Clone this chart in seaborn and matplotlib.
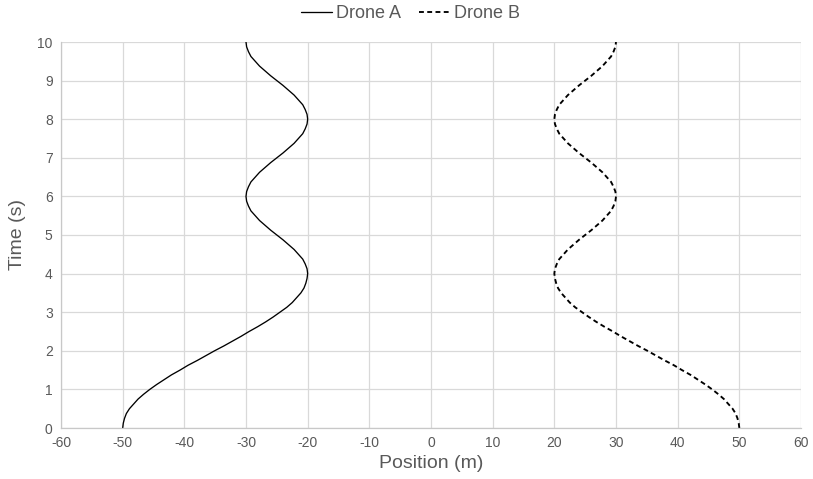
import matplotlib
matplotlib.use("Agg")
import matplotlib.pyplot as plt
import seaborn as sns
import pandas as pd

time_s = [0.0, 0.125, 0.25, 0.375, 0.5, 0.625, 0.75, 0.875,
          1.0, 1.125, 1.25, 1.375, 1.5, 1.625, 1.75, 1.875,
          2.0, 2.125, 2.25, 2.375, 2.5, 2.625, 2.75, 2.875,
          3.0, 3.125, 3.25, 3.375, 3.5, 3.625, 3.75, 3.875,
          4.0, 4.125, 4.25, 4.375, 4.5, 4.625, 4.75, 4.875,
          5.0, 5.125, 5.25, 5.375, 5.5, 5.625, 5.75, 5.875,
          6.0, 6.125, 6.25, 6.375, 6.5, 6.625, 6.75, 6.875,
          7.0, 7.125, 7.25, 7.375, 7.5, 7.625, 7.75, 7.875,
          8.0, 8.125, 8.25, 8.375, 8.5, 8.625, 8.75, 8.875,
          9.0, 9.125, 9.25, 9.375, 9.5, 9.625, 9.75, 9.875, 10.0]
drone_a = [-50.0, -49.9, -49.7, -49.4, -48.9, -48.2, -47.5, -46.6,
           -45.6, -44.5, -43.3, -42.1, -40.7, -39.4, -37.9, -36.5,
           -35.1, -33.6, -32.2, -30.8, -29.5, -28.1, -26.8, -25.6,
           -24.5, -23.4, -22.5, -21.8, -21.1, -20.6, -20.3, -20.1,
           -20.0, -20.1, -20.4, -20.8, -21.5, -22.2, -23.1, -24.0,
           -25.0, -26.0, -26.9, -27.8, -28.5, -29.2, -29.6, -29.9,
           -30.0, -29.9, -29.6, -29.2, -28.5, -27.8, -26.9, -26.0,
           -25.0, -24.0, -23.1, -22.2, -21.5, -20.8, -20.4, -20.1,
           -20.0, -20.1, -20.4, -20.8, -21.5, -22.2, -23.1, -24.0,
           -25.0, -26.0, -26.9, -27.8, -28.5, -29.2, -29.6, -29.9, -30.0]
drone_b = [50.0, 49.9, 49.7, 49.4, 48.9, 48.2, 47.5, 46.6,
           45.6, 44.5, 43.3, 42.1, 40.7, 39.4, 37.9, 36.5,
           35.1, 33.6, 32.2, 30.8, 29.5, 28.1, 26.8, 25.6,
           24.5, 23.4, 22.5, 21.8, 21.1, 20.6, 20.3, 20.1,
           20.0, 20.1, 20.4, 20.8, 21.5, 22.2, 23.1, 24.0,
           25.0, 26.0, 26.9, 27.8, 28.5, 29.2, 29.6, 29.9,
           30.0, 29.9, 29.6, 29.2, 28.5, 27.8, 26.9, 26.0,
           25.0, 24.0, 23.1, 22.2, 21.5, 20.8, 20.4, 20.1,
           20.0, 20.1, 20.4, 20.8, 21.5, 22.2, 23.1, 24.0,
           25.0, 26.0, 26.9, 27.8, 28.5, 29.2, 29.6, 29.9, 30.0]
series_names = ["Drone A", "Drone B"]
x_ticks = [-60, -50, -40, -30, -20, -10, 0, 10, 20, 30, 40, 50, 60]
y_ticks = [0, 1, 2, 3, 4, 5, 6, 7, 8, 9, 10]

df = pd.concat([
    pd.DataFrame({"Position": drone_a, "Time": time_s, "Drone": series_names[0]}),
    pd.DataFrame({"Position": drone_b, "Time": time_s, "Drone": series_names[1]}),
], ignore_index=True)

sns.set_theme(style="white")
plt.rcParams["font.family"] = ["Liberation Sans", "DejaVu Sans"]

TXT = "#595959"
GRID = "#d9d9d9"

fig = plt.figure(figsize=(8.13, 4.79), dpi=100)
ax = fig.add_axes([61 / 813, 1 - 428 / 479, 740 / 813, 386 / 479])

sns.lineplot(data=df, x="Position", y="Time", hue="Drone", style="Drone",
             sort=False, estimator=None, units="Drone",
             palette={series_names[0]: "black", series_names[1]: "black"},
             dashes={series_names[0]: "", series_names[1]: (2.6, 1.8)},
             linewidth=1.0, ax=ax, legend=True)

# per-series stroke widths (solid thin, dashed slightly heavier)
handles, labels = ax.get_legend_handles_labels()
for ln in list(ax.lines) + list(handles):
    if ln.get_label() == series_names[1] or ln.get_linestyle() not in ("-", "solid"):
        ln.set_linewidth(1.35)
    else:
        ln.set_linewidth(0.95)

ax.set_xlim(-60, 60)
ax.set_ylim(0, 10)
ax.set_xticks(x_ticks)
ax.set_yticks(y_ticks)
ax.set_xticklabels([str(v) for v in x_ticks])
ax.set_yticklabels([str(v) for v in y_ticks])
ax.tick_params(axis="both", length=0, labelsize=10, colors=TXT, pad=6)
ax.grid(True, color=GRID, linewidth=0.9)
ax.set_axisbelow(True)
for side in ["top", "right"]:
    ax.spines[side].set_visible(False)
for side in ["left", "bottom"]:
    ax.spines[side].set_color("#c8c8c8")
    ax.spines[side].set_linewidth(0.9)

ax.set_xlabel("Position (m)", fontsize=14, color=TXT, labelpad=3)
ax.set_ylabel("Time (s)", fontsize=14, color=TXT, labelpad=8)

ax.get_legend().remove()
leg = fig.legend(handles, labels, loc="center", bbox_to_anchor=(0.505, 0.971),
                 ncol=2, frameon=False, fontsize=13, handlelength=1.75,
                 handletextpad=0.2, columnspacing=1.0)
for t in leg.get_texts():
    t.set_color(TXT)

fig.savefig("out.png", dpi=100)
